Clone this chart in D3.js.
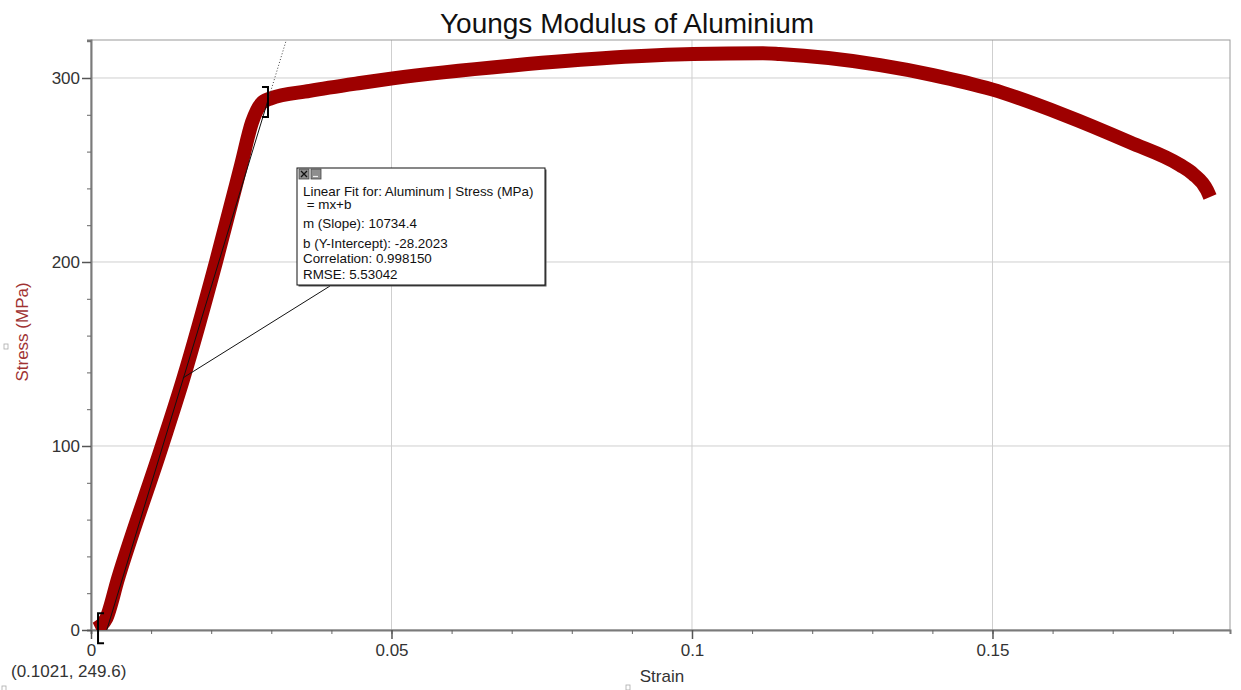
<!DOCTYPE html>
<html>
<head>
<meta charset="utf-8">
<script src="https://cdn.jsdelivr.net/npm/d3@7"></script>
<style>
  body { margin: 0; background: #fff; }
  text { font-family: "Liberation Sans", Arial, sans-serif; }
</style>
</head>
<body>
<div id="chart"></div>
<script>
// stress-strain curve
const strain = [0.0008, 0.0025, 0.0045, 0.0118, 0.0153, 0.0208, 0.0250, 0.0268, 0.0283,
  0.0298, 0.0364, 0.0448, 0.0502, 0.0702, 0.0869, 0.1002, 0.1118, 0.1146,
  0.1313, 0.1401, 0.1499, 0.1617, 0.1729, 0.1812, 0.1834, 0.1857, 0.1862]
const stress = [0.5, 6, 28, 100, 136, 200, 253, 276, 286,
  288.8, 293, 297.3, 299.8, 306.8, 311.1, 313.0, 313.4, 313.0,
  307, 301.6, 293.8, 280.2, 265, 252.7, 247.8, 239, 235.3]

const xTicks = [0, 0.05, 0.1, 0.15]
const yTicks = [0, 100, 200, 300]

// linear fit
const slope = 10734.4
const intercept = -28.2023
const fitRange = [0.00117, 0.02945]
const fitBracketY = [1, 287]
const fitAnchor = [0.0153, 137]
const fitLines = [
  "Linear Fit for: Aluminum | Stress (MPa)",
  " = mx+b",
  "m (Slope): 10734.4",
  "b (Y-Intercept): -28.2023",
  "Correlation: 0.998150",
  "RMSE: 5.53042"
]

const data = strain.map((s, i) => ({ x: s, y: stress[i] }))

const W = 1241, H = 690
const margin = ({ top: 40, right: 11, bottom: 60, left: 91 })

const svg = d3.select("#chart").append("svg")
  .attr("width", W)
  .attr("height", H)

const xScale = d3.scaleLinear()
  .domain([0, 0.18952])
  .range([margin.left, W - margin.right])

const yScale = d3.scaleLinear()
  .domain([0, 320.65])
  .range([H - margin.bottom, margin.top])

const x0 = margin.left, x1 = W - margin.right, y0 = H - margin.bottom, y1 = margin.top

svg.append("defs").append("clipPath").attr("id", "plot")
  .append("rect")
  .attr("x", x0).attr("y", y1)
  .attr("width", x1 - x0).attr("height", y0 - y1)

// grid
svg.append("g")
  .attr("stroke", "#cfcfcf")
  .selectAll("line")
  .data(xTicks.slice(1))
  .join("line")
  .attr("x1", d => xScale(d)).attr("x2", d => xScale(d))
  .attr("y1", y1).attr("y2", y0)

svg.append("g")
  .attr("stroke", "#cfcfcf")
  .selectAll("line")
  .data(yTicks.slice(1))
  .join("line")
  .attr("x1", x0).attr("x2", x1)
  .attr("y1", d => yScale(d)).attr("y2", d => yScale(d))

// frame
svg.append("rect")
  .attr("x", x0).attr("y", y1)
  .attr("width", x1 - x0).attr("height", y0 - y1)
  .attr("fill", "none")
  .attr("stroke", "#9a9a9a")

// minor ticks
const xAxis = d3.axisBottom(xScale)
  .tickValues(d3.range(0, 0.1895, 0.01))
  .tickSize(4)
  .tickFormat("")

const yAxis = d3.axisLeft(yScale)
  .tickValues(d3.range(0, 321, 20))
  .tickSize(4)
  .tickFormat("")

svg.append("g")
  .attr("class", "axis x-axis")
  .attr("transform", `translate(0, ${y0})`)
  .call(xAxis)
  .call(g => g.selectAll(".tick line").attr("stroke", "#666"))
  .call(g => g.select(".domain").attr("stroke", "#7a7a7a").attr("stroke-width", 2))

svg.append("g")
  .attr("class", "axis y-axis")
  .attr("transform", `translate(${x0}, 0)`)
  .call(yAxis)
  .call(g => g.selectAll(".tick line").attr("stroke", "#666"))
  .call(g => g.select(".domain").attr("stroke", "#7a7a7a").attr("stroke-width", 2))

// major ticks + labels
svg.append("g")
  .attr("transform", `translate(0, ${y0})`)
  .call(d3.axisBottom(xScale).tickValues(xTicks).tickSize(9).tickPadding(5).tickFormat(d => d === 0 ? "0" : d3.format("")(d)))
  .call(g => g.select(".domain").remove())
  .call(g => g.selectAll(".tick line").attr("stroke", "#555").attr("stroke-width", 1.5))
  .call(g => g.selectAll(".tick text").attr("font-size", 17).attr("fill", "#333")
    .attr("font-family", "'Liberation Sans', Arial, sans-serif"))

svg.append("g")
  .attr("transform", `translate(${x0}, 0)`)
  .call(d3.axisLeft(yScale).tickValues(yTicks).tickSize(9).tickPadding(2))
  .call(g => g.select(".domain").remove())
  .call(g => g.selectAll(".tick line").attr("stroke", "#555").attr("stroke-width", 1.5))
  .call(g => g.selectAll(".tick text").attr("font-size", 17).attr("fill", "#333")
    .attr("font-family", "'Liberation Sans', Arial, sans-serif"))

// data band
const line = d3.line()
  .x(d => xScale(d.x))
  .y(d => yScale(d.y))
  .curve(d3.curveMonotoneX)

svg.append("path")
  .datum(data)
  .attr("clip-path", "url(#plot)")
  .attr("fill", "none")
  .attr("stroke", "#9e0000")
  .attr("stroke-width", 14)
  .attr("stroke-linejoin", "round")
  .attr("d", line)

// fit line: solid inside the range, dotted beyond
const fitY = s => slope * s + intercept
const sAtZero = -intercept / slope
const sAtTop = (yScale.domain()[1] - intercept) / slope

svg.append("line")
  .attr("clip-path", "url(#plot)")
  .attr("x1", xScale(sAtZero)).attr("y1", yScale(0))
  .attr("x2", xScale(fitRange[1])).attr("y2", yScale(fitY(fitRange[1])))
  .attr("stroke", "#111").attr("stroke-width", 1)

svg.append("line")
  .attr("clip-path", "url(#plot)")
  .attr("x1", xScale(fitRange[1])).attr("y1", yScale(fitY(fitRange[1])))
  .attr("x2", xScale(sAtTop)).attr("y2", yScale(yScale.domain()[1]))
  .attr("stroke", "#444").attr("stroke-width", 1)
  .attr("stroke-dasharray", "1,2")

// range brackets
const bh = 15, bw = 6
const bx0 = xScale(fitRange[0]), by0 = yScale(fitBracketY[0])
const bx1 = xScale(fitRange[1]), by1 = yScale(fitBracketY[1])
svg.append("path")
  .attr("fill", "none").attr("stroke", "#000").attr("stroke-width", 2)
  .attr("d", `M${bx0 + bw},${by0 - bh}H${bx0}V${by0 + bh}H${bx0 + bw}`)
svg.append("path")
  .attr("fill", "none").attr("stroke", "#000").attr("stroke-width", 2)
  .attr("d", `M${bx1 - bw},${by1 - bh}H${bx1}V${by1 + bh}H${bx1 - bw}`)

// annotation box
const box = { x: 297, y: 168, w: 248, h: 117 }

svg.append("line")
  .attr("x1", xScale(fitAnchor[0])).attr("y1", yScale(fitAnchor[1]))
  .attr("x2", box.x + 33).attr("y2", box.y + box.h + 1)
  .attr("stroke", "#111").attr("stroke-width", 1)

svg.append("rect")
  .attr("x", box.x + 1.5).attr("y", box.y + 1.5)
  .attr("width", box.w).attr("height", box.h)
  .attr("fill", "#555")
svg.append("rect")
  .attr("x", box.x).attr("y", box.y)
  .attr("width", box.w).attr("height", box.h)
  .attr("fill", "#fff").attr("stroke", "#111")

const icons = svg.append("g")
icons.selectAll("rect")
  .data([0, 1])
  .join("rect")
  .attr("x", d => box.x + 2 + d * 12).attr("y", box.y + 1)
  .attr("width", 10).attr("height", 10)
  .attr("fill", "#8e8e8e").attr("stroke", "#444").attr("stroke-width", 0.8)
icons.append("path")
  .attr("d", `M${box.x + 4},${box.y + 3}L${box.x + 10},${box.y + 9}M${box.x + 10},${box.y + 3}L${box.x + 4},${box.y + 9}`)
  .attr("stroke", "#111").attr("stroke-width", 1.3)
icons.append("path")
  .attr("d", `M${box.x + 16},${box.y + 8.5}H${box.x + 21}`)
  .attr("stroke", "#eee").attr("stroke-width", 1.2)

const lineY = [196, 209, 228, 248, 263, 279]
svg.append("g")
  .selectAll("text")
  .data(fitLines)
  .join("text")
  .attr("x", box.x + 6)
  .attr("y", (d, i) => lineY[i])
  .attr("font-size", 13.4)
  .attr("fill", "#111")
  .attr("xml:space", "preserve")
  .style("white-space", "pre")
  .text(d => d)

// titles and labels
svg.append("text")
  .attr("x", 627).attr("y", 33)
  .attr("text-anchor", "middle")
  .attr("font-size", 28)
  .attr("fill", "#111")
  .text("Youngs Modulus of Aluminium")

svg.append("text")
  .attr("x", 662).attr("y", 682)
  .attr("text-anchor", "middle")
  .attr("font-size", 17)
  .attr("fill", "#333")
  .text("Strain")

svg.append("text")
  .attr("transform", "translate(28, 332) rotate(-90)")
  .attr("text-anchor", "middle")
  .attr("font-size", 17)
  .attr("fill", "#a03232")
  .text("Stress (MPa)")

svg.append("text")
  .attr("x", 11).attr("y", 677)
  .attr("font-size", 17)
  .attr("fill", "#333")
  .text("(0.1021, 249.6)")

// small ui markers
svg.selectAll("rect.ui")
  .data([[4, 344], [626, 685], [2, 686]])
  .join("rect")
  .attr("class", "ui")
  .attr("x", d => d[0]).attr("y", d => d[1])
  .attr("width", 4).attr("height", 5)
  .attr("fill", "none").attr("stroke", "#aaa").attr("stroke-width", 0.8)
</script>
</body>
</html>
